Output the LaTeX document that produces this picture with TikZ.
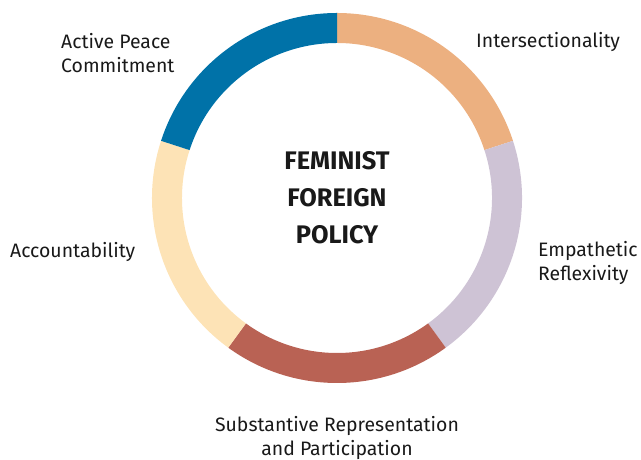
\documentclass[tikz,border=0pt]{standalone}
\usepackage{fontspec}
\setmainfont{Fira Sans}
\definecolor{cblue}{RGB}{0,114,168}
\definecolor{corange}{RGB}{236,176,128}
\definecolor{cpurple}{RGB}{206,195,213}
\definecolor{cred}{RGB}{185,98,84}
\definecolor{cyellow}{RGB}{253,227,182}
\definecolor{ctext}{RGB}{25,25,25}
\tikzset{
  lbl/.style={inner sep=0pt, font=\fontsize{19.5}{23.5}\selectfont, text=ctext},
  ttl/.style={inner sep=0pt, align=center, font=\fontsize{25.5}{37}\selectfont\bfseries, text=ctext},
}
\newcommand{\ringseg}[3]{%
  \fill[#3] (#1:185bp) arc[start angle=#1, end angle=#2, radius=185bp]
    -- (#2:155bp) arc[start angle=#2, end angle=#1, radius=155bp] -- cycle;}
\begin{document}
\begin{tikzpicture}[x=1bp,y=1bp]
\useasboundingbox (0,0) rectangle (641,460);
\begin{scope}[shift={(337,262)}]
  \ringseg{90}{18}{corange}
  \ringseg{18}{-54}{cpurple}
  \ringseg{-54}{-126}{cred}
  \ringseg{-126}{-198}{cyellow}
  \ringseg{162}{90}{cblue}
\end{scope}
\node[ttl] (title) at (337,262) {FEMINIST\\FOREIGN\\POLICY};
\node[lbl, anchor=west, align=left] (apc) at (61,407) {Active Peace\\Commitment};
\node[lbl, anchor=west] (inter) at (476,418) {Intersectionality};
\node[lbl, anchor=west, align=left] (emp) at (538,197) {Empathetic\\Reflexivity};
\node[lbl, anchor=west] (acc) at (10,208) {Accountability};
\node[lbl, align=center] (srp) at (337,22) {Substantive Representation\\and Participation};
\end{tikzpicture}
\end{document}
